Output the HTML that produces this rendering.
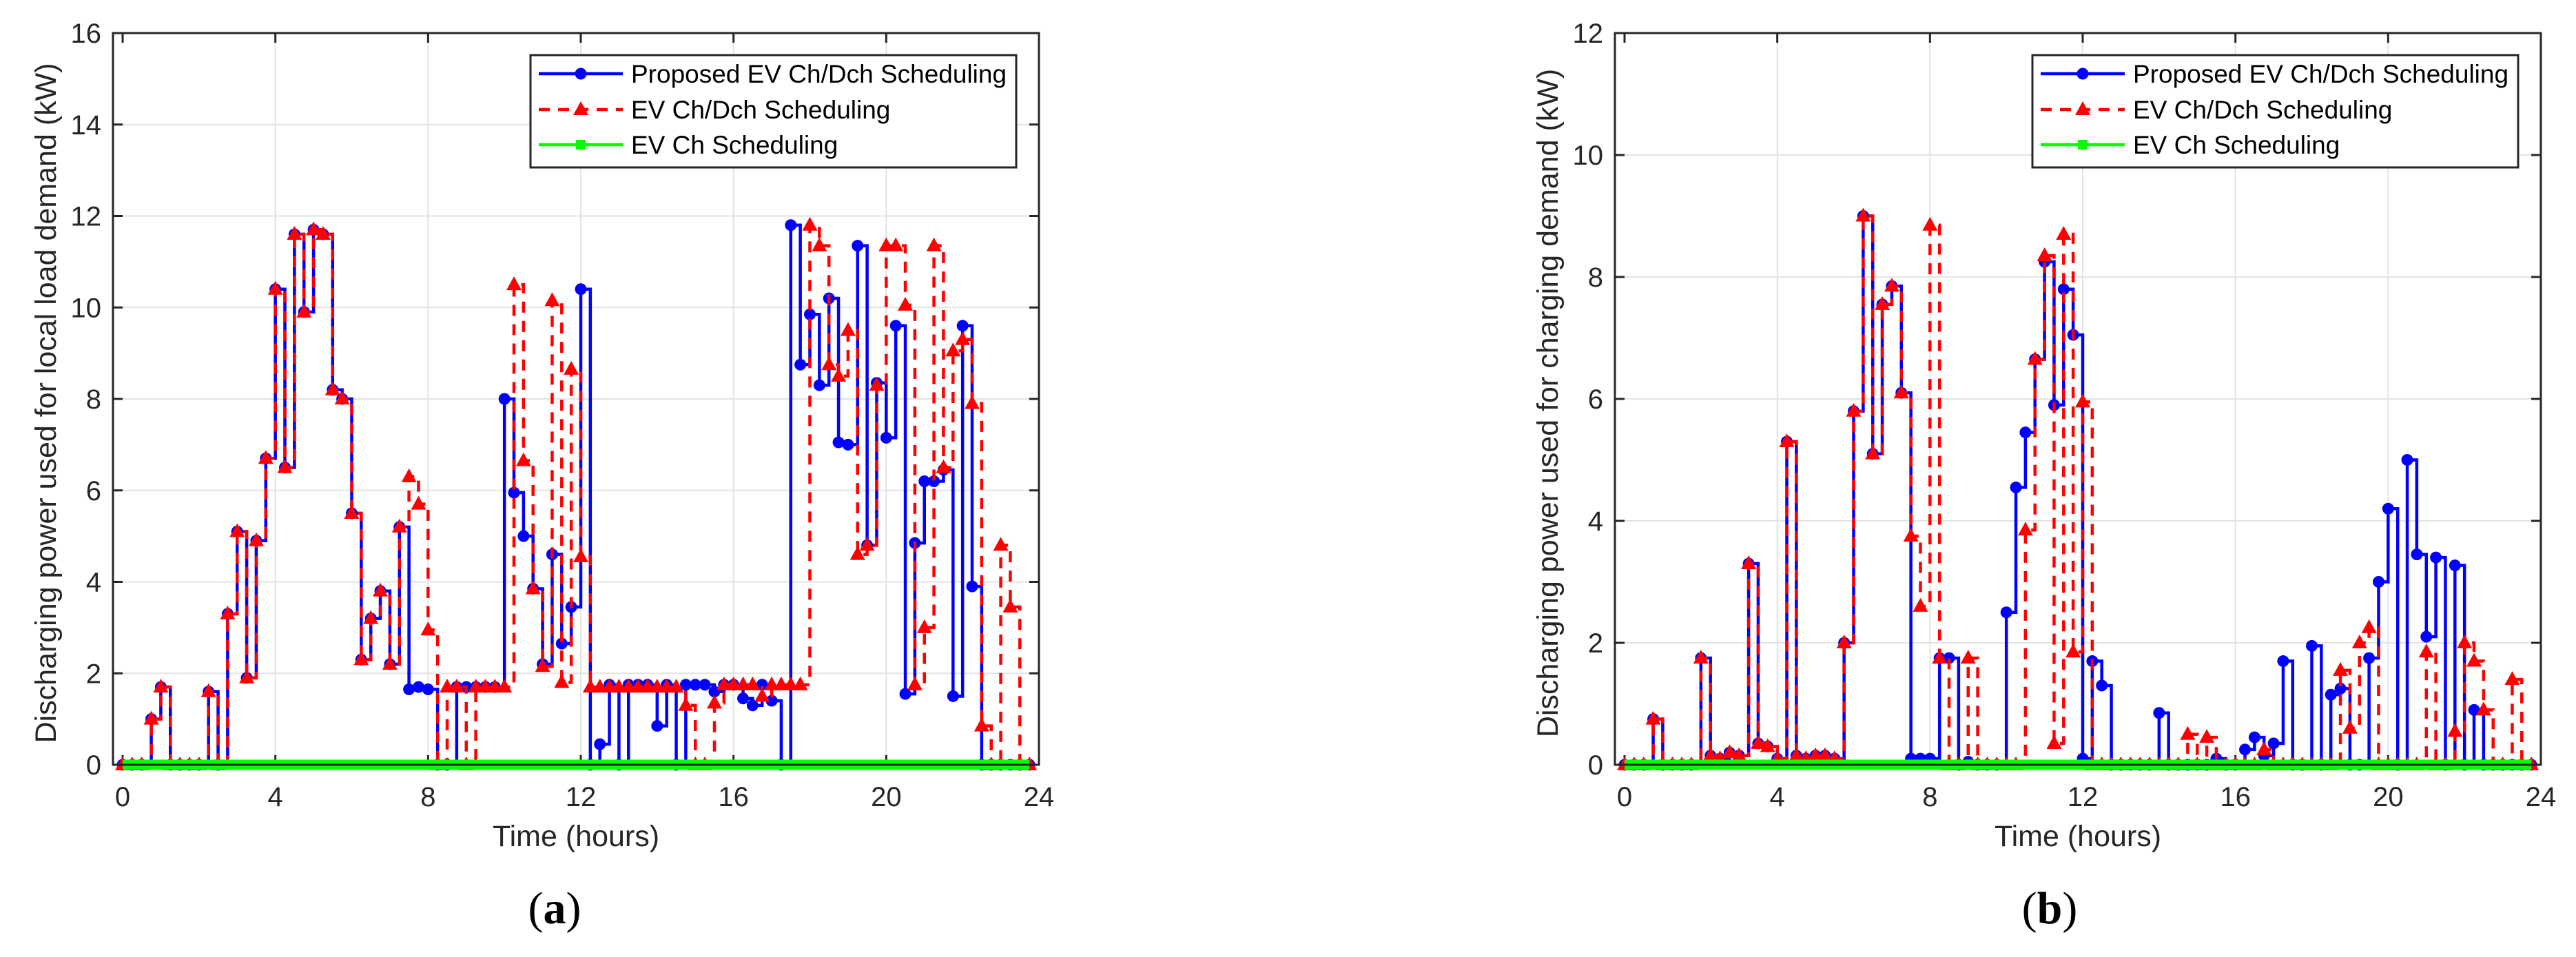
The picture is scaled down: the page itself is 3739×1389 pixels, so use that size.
<!DOCTYPE html>
<html><head><meta charset="utf-8">
<style>
html,body{margin:0;padding:0;background:#fff;}
svg{display:block;font-family:"Liberation Sans",sans-serif;}
</style></head>
<body>
<svg id="chart" width="3739" height="1389" viewBox="0 0 3739 1389" xmlns="http://www.w3.org/2000/svg"></svg>
<script>
const xTicks = [0,4,8,12,16,20,24];
const yTicksA = [0,2,4,6,8,10,12,14,16];
const yTicksB = [0,2,4,6,8,10,12];
const proposedA = [0,0,0,1.0,1.7,0,0,0,0,1.6,0,3.3,5.1,1.9,4.9,6.7,10.4,6.5,11.6,9.9,11.7,11.6,8.2,8.0,5.5,2.3,3.2,3.8,2.2,5.2,1.65,1.7,1.65,0,0,1.7,1.7,1.7,1.7,1.7,8.0,5.95,5.0,3.85,2.2,4.6,2.65,3.45,10.4,0,0.45,1.75,0,1.75,1.75,1.75,0.85,1.75,0,1.75,1.75,1.75,1.6,1.75,1.75,1.45,1.3,1.75,1.4,0,11.8,8.75,9.85,8.3,10.2,7.05,7.0,11.35,4.8,8.35,7.15,9.6,1.55,4.85,6.2,6.2,6.45,1.5,9.6,3.9,0,0,0,0,0,0];
const chdchA = [0,0,0,1.0,1.7,0,0,0,0,1.6,0,3.3,5.1,1.9,4.9,6.7,10.4,6.5,11.6,9.9,11.7,11.6,8.2,8.0,5.5,2.3,3.2,3.8,2.2,5.2,6.3,5.7,2.95,0,1.7,1.7,0,1.7,1.7,1.7,1.7,10.5,6.65,3.85,2.15,10.15,1.8,8.65,4.55,1.7,1.7,1.7,1.7,1.7,1.7,1.7,1.7,1.7,1.7,1.3,0,0,1.35,1.75,1.75,1.75,1.75,1.5,1.75,1.75,1.75,1.75,11.8,11.35,8.75,8.5,9.5,4.6,4.8,8.3,11.35,11.35,10.05,1.75,3.0,11.35,6.5,9.05,9.3,7.9,0.85,0,4.8,3.45,0,0];
const proposedB = [0,0,0,0.75,0,0,0,0,1.75,0.15,0.1,0.2,0.15,3.3,0.35,0.3,0.1,5.3,0.15,0.1,0.15,0.15,0.1,2.0,5.8,9.0,5.1,7.55,7.85,6.1,0.1,0.1,0.1,1.75,1.75,0,0.05,0,0,0,2.5,4.55,5.45,6.65,8.25,5.9,7.8,7.05,0.1,1.7,1.3,0,0,0,0,0,0.85,0,0,0,0,0,0.1,0,0,0.25,0.45,0.15,0.35,1.7,0,0,1.95,0,1.15,1.25,0,0,1.75,3.0,4.2,0,5.0,3.45,2.1,3.4,0,3.27,0,0.9,0,0,0,0,0,0];
const chdchB = [0,0,0,0.75,0,0,0,0,1.75,0.15,0.1,0.2,0.15,3.3,0.35,0.3,0.1,5.3,0.15,0.1,0.15,0.15,0.1,2.0,5.8,9.0,5.1,7.55,7.85,6.1,3.75,2.6,8.85,1.75,0,0,1.75,0,0,0,0,0,3.85,6.65,8.35,0.35,8.7,1.85,5.95,0,0,0,0,0,0,0,0,0,0,0.5,0,0.45,0,0,0,0,0,0.25,0,0,0,0,0,0,0,1.55,0.6,2.0,2.25,0,0,0,0,0,1.85,0,0,0.55,2.0,1.7,0.9,0,0,1.4,0,0];
const chOnly = [0,0,0,0,0,0,0,0,0,0,0,0,0,0,0,0,0,0,0,0,0,0,0,0,0,0,0,0,0,0,0,0,0,0,0,0,0,0,0,0,0,0,0,0,0,0,0,0,0,0,0,0,0,0,0,0,0,0,0,0,0,0,0,0,0,0,0,0,0,0,0,0,0,0,0,0,0,0,0,0,0,0,0,0,0,0,0,0,0,0,0,0,0,0,0,0];
const stepHours = 0.25;
const legendLabels = ["Proposed EV Ch/Dch Scheduling","EV Ch/Dch Scheduling","EV Ch Scheduling"];

const NS="http://www.w3.org/2000/svg";
const svg=document.getElementById('chart');
function mk(tag,attrs,parent){const e=document.createElementNS(NS,tag);for(const k in attrs)e.setAttribute(k,attrs[k]);(parent||svg).appendChild(e);return e;}

function panel(cfg){
  const g=mk('g',{});
  
  
  const L=cfg.left,R=cfg.left+1344,T=48,B=1110;
  const x0=L+14,x24=R;
  const xs=v=>x0+(x24-x0)*v/24;
  const ys=v=>B-(B-T)*v/cfg.ymax;
  // grid
  xTicks.forEach(t=>{ if(t>0&&t<24){const l=mk('line',{x1:xs(t),x2:xs(t),y1:T,y2:B,stroke:'#e3e3e3','stroke-width':2},g);
    
    }});
  cfg.yticks.forEach(t=>{ if(t>0&&t<cfg.ymax){const l=mk('line',{x1:L,x2:R,y1:ys(t),y2:ys(t),stroke:'#e3e3e3','stroke-width':2},g);
    
    }});
  // ticks & labels
  xTicks.forEach(t=>{
    mk('line',{x1:xs(t),x2:xs(t),y1:B,y2:B-14,stroke:'#262626','stroke-width':3},g);
    mk('line',{x1:xs(t),x2:xs(t),y1:T,y2:T+14,stroke:'#262626','stroke-width':3},g);
    const tx=mk('text',{x:xs(t),y:1170,'text-anchor':'middle','font-size':40,fill:'#262626'},g);
    tx.textContent=t;
    
    
  });
  cfg.yticks.forEach(t=>{
    mk('line',{x1:L,x2:L+14,y1:ys(t),y2:ys(t),stroke:'#262626','stroke-width':3},g);
    mk('line',{x1:R,x2:R-14,y1:ys(t),y2:ys(t),stroke:'#262626','stroke-width':3},g);
    const tx=mk('text',{x:L-17,y:ys(t)+14,'text-anchor':'end','font-size':40,fill:'#262626'},g);
    tx.textContent=t;
    
    
  });
  function stairs(vals){let d='';vals.forEach((v,i)=>{const x=xs(i*stepHours),y=ys(v);
    if(i===0)d='M'+x+' '+y;else d+=' H'+x+' V'+y;});return d;}
  // blue
  const pb=mk('path',{d:stairs(cfg.blue),fill:'none',stroke:'#0000ff','stroke-width':4.5},g);
  
  
  cfg.blue.forEach((v,i)=>{const c=mk('circle',{cx:xs(i*stepHours),cy:ys(v),r:8.5,fill:'#0000ff'},g);
    
    });
  // red
  const pr=mk('path',{d:stairs(cfg.red),fill:'none',stroke:'#ff0000','stroke-width':4.5,'stroke-dasharray':'16 12'},g);
  
  
  cfg.red.forEach((v,i)=>{const x=xs(i*stepHours),y=ys(v);
    const p=mk('polygon',{points:`${x},${y-12} ${x-11},${y+8} ${x+11},${y+8}`,fill:'#ff0000'},g);
    
    });
  // green
  const pg=mk('path',{d:stairs(chOnly),fill:'none',stroke:'#00ff00','stroke-width':15},g);
  
  
  // box
  const bx=mk('rect',{x:L,y:T,width:R-L,height:B-T,fill:'none',stroke:'#262626','stroke-width':3},g);
  
  
  // titles
  const xt=mk('text',{x:(L+R)/2,y:1228,'text-anchor':'middle','font-size':43,fill:'#262626'},g);
  xt.textContent='Time (hours)';
  
  
  const yt=mk('text',{x:0,y:0,'text-anchor':'middle','font-size':43,fill:'#262626',transform:`translate(${L-83},${(T+B)/2+6}) rotate(-90)`},g);
  yt.textContent=cfg.ytitle;
  
  
  const pl=mk('text',{x:cfg.labelX,y:1340,'text-anchor':'middle','font-size':66,fill:'#000','font-family':'Liberation Serif, serif'},g);
  pl.innerHTML='(<tspan font-weight="bold">'+cfg.letter+'</tspan>)';
  
  
  // legend
  const lg=mk('g',{},g);
  
  
  const lx=L+606,ly=80;
  mk('rect',{x:lx,y:ly,width:705,height:163,fill:'#fff',stroke:'#262626','stroke-width':3},lg);
  const rowsY=[ly+26+1,ly+79,ly+130];
  legendLabels.forEach((lab,k)=>{
    const e=mk('g',{},lg);
    
    
    const y=rowsY[k];
    if(k===0){mk('line',{x1:lx+12,x2:lx+134,y1:y,y2:y,stroke:'#0000ff','stroke-width':4.5},e);mk('circle',{cx:lx+73,cy:y,r:8.5,fill:'#0000ff'},e);}
    if(k===1){mk('line',{x1:lx+12,x2:lx+134,y1:y,y2:y,stroke:'#ff0000','stroke-width':4.5,'stroke-dasharray':'16 12'},e);mk('polygon',{points:`${lx+73},${y-12} ${lx+62},${y+8} ${lx+84},${y+8}`,fill:'#ff0000'},e);}
    if(k===2){mk('line',{x1:lx+12,x2:lx+134,y1:y,y2:y,stroke:'#00ff00','stroke-width':4.5},e);mk('rect',{x:lx+66,y:y-7,width:14,height:14,fill:'#00ff00'},e);}
    const t=mk('text',{x:lx+146,y:y+13,'font-size':37,fill:'#000'},e);
    t.textContent=lab;
  });
}
panel({name:'panel-a-chart',left:164,ymax:16,yticks:yTicksA,blue:proposedA,red:chdchA,ytitle:'Discharging power used for local load demand (kW)',letter:'a',labelX:805});
panel({name:'panel-b-chart',left:2344,ymax:12,yticks:yTicksB,blue:proposedB,red:chdchB,ytitle:'Discharging power used for charging demand (kW)',letter:'b',labelX:2975});
</script>
</body></html>
